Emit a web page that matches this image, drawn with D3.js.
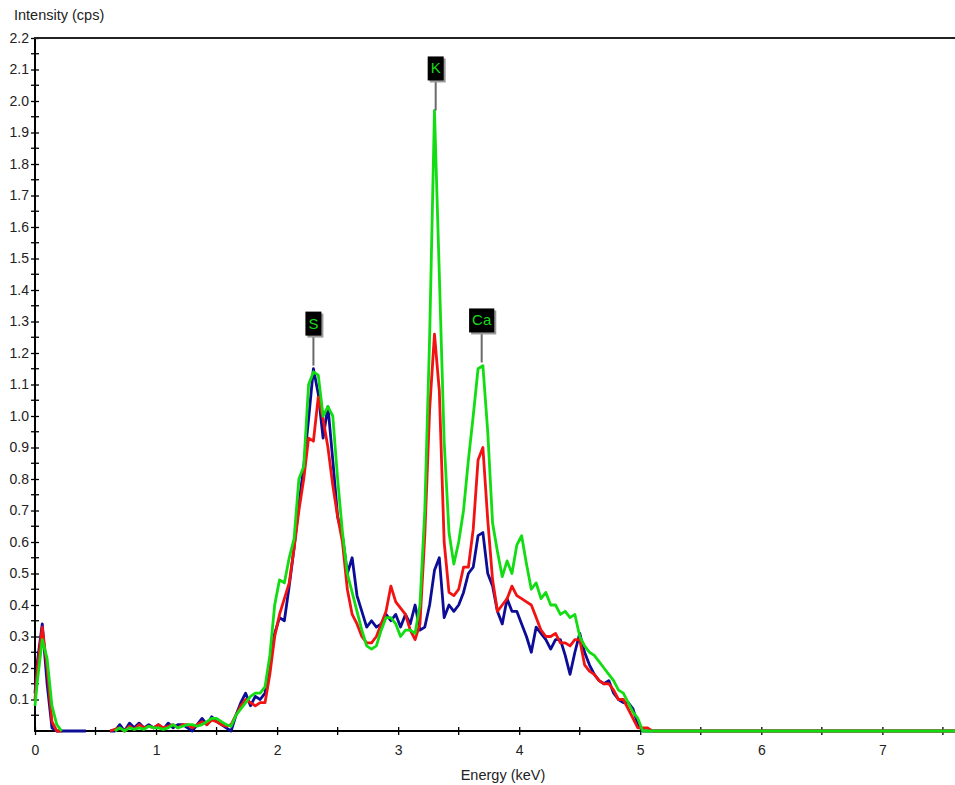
<!DOCTYPE html>
<html>
<head>
<meta charset="utf-8">
<script src="https://cdn.jsdelivr.net/npm/d3@7/dist/d3.min.js"></script>
<style>
  html, body { margin: 0; padding: 0; background: #fff; }
  svg { display: block; }
  text { font-family: "Liberation Sans", Arial, sans-serif; }
</style>
</head>
<body>
<svg id="chart" width="955" height="785"></svg>
<script>
// ---- data ----
const energies = [0,
  0.02,0.06,0.10,0.14,0.18,0.22,0.26,0.30,0.34,0.38,0.42,0.46,0.50,0.54,0.58,0.62,0.66,0.70,0.74,0.78,
  0.82,0.86,0.90,0.94,0.98,1.02,1.06,1.10,1.14,1.18,1.22,1.26,1.30,1.34,1.38,1.42,1.46,1.50,1.54,1.58,
  1.62,1.66,1.70,1.74,1.78,1.82,1.86,1.90,1.94,1.98,2.02,2.06,2.10,2.14,2.18,2.22,2.26,2.30,2.34,2.38,
  2.42,2.46,2.50,2.54,2.58,2.62,2.66,2.70,2.74,2.78,2.82,2.86,2.90,2.94,2.98,3.02,3.06,3.10,3.14,3.18,
  3.22,3.26,3.30,3.34,3.38,3.42,3.46,3.50,3.54,3.58,3.62,3.66,3.70,3.74,3.78,3.82,3.86,3.90,3.94,3.98,
  4.02,4.06,4.10,4.14,4.18,4.22,4.26,4.30,4.34,4.38,4.42,4.46,4.50,4.54,4.58,4.62,4.66,4.70,4.74,4.78,
  4.82,4.86,4.90,4.94,4.98,5.02,5.06,5.10,7.60];

const blueSeries = [0.12,
  0.22,0.34,0.15,0.01,0,0,0,0,0,0,0,null,null,null,null,0,0,0.02,0,0.025,
  0.01,0.025,0.01,0.02,0.01,0.02,0.005,0.025,0.01,0.02,0.02,0.01,0,0.02,0.04,0.02,0.045,0.03,0.02,0.01,
  0,0.05,0.09,0.12,0.08,0.11,0.10,0.12,0.22,0.31,0.36,0.35,0.46,0.58,0.72,0.84,0.99,1.15,1.07,0.93,
  1.03,0.86,0.68,0.62,0.50,0.55,0.43,0.38,0.33,0.35,0.33,0.34,0.37,0.35,0.37,0.33,0.37,0.34,0.40,0.32,
  0.33,0.40,0.51,0.55,0.36,0.40,0.38,0.40,0.44,0.50,0.52,0.62,0.63,0.50,0.46,0.38,0.34,0.42,0.38,0.38,
  0.34,0.30,0.25,0.33,0.31,0.29,0.26,0.29,0.29,0.24,0.18,0.25,0.31,0.25,0.21,0.18,0.16,0.15,0.16,0.12,
  0.10,0.09,0.09,0.07,0.02,0,0,0,0];

const redSeries = [0.10,
  0.20,0.33,0.20,0.03,0,0,null,null,null,null,null,null,null,null,null,0,0.005,0.01,0,0.015,
  0.005,0.02,0.01,0.015,0.01,0.02,0.01,0.015,0.02,0.01,0.02,0.02,0.01,0.02,0.03,0.02,0.035,0.03,0.02,0.015,
  0.02,0.05,0.08,0.10,0.09,0.08,0.09,0.09,0.18,0.30,0.37,0.42,0.47,0.58,0.70,0.80,0.93,0.92,1.06,0.99,
  0.90,0.78,0.68,0.60,0.45,0.37,0.34,0.30,0.28,0.28,0.30,0.34,0.38,0.46,0.41,0.39,0.37,0.32,0.29,0.34,
  0.62,1.02,1.26,1.08,0.60,0.44,0.43,0.45,0.52,0.52,0.64,0.86,0.90,0.67,0.48,0.38,0.40,0.42,0.46,0.43,
  0.42,0.41,0.40,0.36,0.32,0.30,0.30,0.31,0.28,0.28,0.27,0.29,0.29,0.21,0.19,0.18,0.16,0.15,0.15,0.13,
  0.10,0.10,0.07,0.04,0.01,0.01,0.01,0,0];

const greenSeries = [0.08,
  0.16,0.29,0.23,0.08,0.02,0,null,null,null,null,null,null,null,null,null,null,0,0.01,0,0.01,
  0.005,0.01,0.005,0.015,0.01,0.01,0.005,0.01,0.02,0.01,0.015,0.02,0.02,0.015,0.02,0.03,0.04,0.04,0.03,0.02,
  0.015,0.05,0.07,0.09,0.11,0.12,0.12,0.14,0.24,0.40,0.48,0.47,0.55,0.61,0.80,0.84,1.10,1.14,1.13,1.00,
  1.03,1.00,0.80,0.63,0.50,0.44,0.38,0.32,0.27,0.26,0.27,0.32,0.36,0.36,0.34,0.30,0.32,0.32,0.31,0.40,
  0.70,1.25,1.97,1.45,0.92,0.63,0.53,0.60,0.70,0.86,1.00,1.15,1.16,0.95,0.66,0.57,0.49,0.54,0.50,0.59,
  0.62,0.53,0.45,0.47,0.42,0.44,0.40,0.40,0.37,0.38,0.36,0.37,0.30,0.27,0.25,0.24,0.22,0.20,0.18,0.16,
  0.13,0.12,0.09,0.06,0.04,0,0,0,0];

const seriesColors = ["#0c0c96", "#f21212", "#12dc12"];

const yTickLabels = ["0.1","0.2","0.3","0.4","0.5","0.6","0.7","0.8","0.9","1.0","1.1",
                     "1.2","1.3","1.4","1.5","1.6","1.7","1.8","1.9","2.0","2.1","2.2"];
const xTickLabels = ["0","1","2","3","4","5","6","7"];

const peakNames = ["S", "K", "Ca"];
const peakEnergies = [2.30, 3.31, 3.69];
const peakHeights = [1.16, 1.97, 1.17];

const xTitle = "Energy (keV)";
const yTitle = "Intensity (cps)";

// ---- drawing ----
const svg = d3.select("#chart");
const x = d3.scaleLinear().domain([0, 7.6]).range([35, 955]);
const y = d3.scaleLinear().domain([0, 2.2]).range([731, 38]);

// y axis (major ticks with labels, minor ticks between)
const yMajor = yTickLabels.map(Number);
const yAxis = d3.axisLeft(y)
  .tickValues(yMajor)
  .tickFormat((d, i) => yTickLabels[i])
  .tickSizeInner(4).tickSizeOuter(0).tickPadding(2);
const gy = svg.append("g").attr("transform", "translate(35,0)").call(yAxis);
gy.select(".domain").remove();
gy.selectAll(".tick line").attr("x1", -4).attr("x2", 4).attr("stroke", "#000").attr("stroke-width", 1.3);
gy.selectAll(".tick text").attr("font-size", 14).attr("fill", "#222").attr("x", -6);

const yMinor = d3.range(1, 44, 2).map(k => k * 0.05);
svg.append("g").selectAll("line").data(yMinor).join("line")
  .attr("x1", 31).attr("x2", 39)
  .attr("y1", d => y(d)).attr("y2", d => y(d))
  .attr("stroke", "#000").attr("stroke-width", 1.3);

// x axis
const xAxis = d3.axisBottom(x)
  .tickValues(xTickLabels.map(Number))
  .tickFormat((d, i) => xTickLabels[i])
  .tickSizeInner(4).tickSizeOuter(0).tickPadding(10);
const gx = svg.append("g").attr("transform", "translate(0,731)").call(xAxis);
gx.select(".domain").remove();
gx.selectAll(".tick line").attr("y1", -4).attr("y2", 4).attr("stroke", "#000").attr("stroke-width", 1.3);
gx.selectAll(".tick text").attr("font-size", 14).attr("fill", "#222");

const xMinor = d3.range(0, 8).map(k => k + 0.5).filter(v => v < 7.6);
svg.append("g").selectAll("line").data(xMinor).join("line")
  .attr("x1", d => x(d)).attr("x2", d => x(d))
  .attr("y1", 727).attr("y2", 735)
  .attr("stroke", "#000").attr("stroke-width", 1.3);

// frame lines: left axis, bottom axis, top line
svg.append("line").attr("x1", 35).attr("x2", 35).attr("y1", 38).attr("y2", 731)
  .attr("stroke", "#000").attr("stroke-width", 2);
svg.append("line").attr("x1", 34).attr("x2", 955).attr("y1", 731).attr("y2", 731)
  .attr("stroke", "#000").attr("stroke-width", 2);
svg.append("line").attr("x1", 34).attr("x2", 955).attr("y1", 38).attr("y2", 38)
  .attr("stroke", "#222").attr("stroke-width", 2);

// titles
svg.append("text").attr("x", 14).attr("y", 20).attr("font-size", 14.5).attr("fill", "#222").text(yTitle);
svg.append("text").attr("x", 503).attr("y", 780).attr("text-anchor", "middle")
  .attr("font-size", 14.5).attr("fill", "#222").text(xTitle);

// spectra
const line = d3.line()
  .defined(d => d[1] != null)
  .x(d => x(d[0])).y(d => y(d[1]));
[blueSeries, redSeries, greenSeries].forEach((s, k) => {
  svg.append("path")
    .datum(energies.map((e, i) => [e, s[i]]))
    .attr("d", line)
    .attr("fill", "none")
    .attr("stroke", seriesColors[k])
    .attr("stroke-width", 2.8)
    .attr("stroke-linejoin", "round");
});

// peak labels
peakNames.forEach((name, i) => {
  const px = x(peakEnergies[i]);
  const py = y(peakHeights[i]);
  const g = svg.append("g");
  g.append("line").attr("x1", px).attr("x2", px).attr("y1", py).attr("y2", py - 30)
    .attr("stroke", "#6a6a6a").attr("stroke-width", 2);
  const t = g.append("text").attr("font-size", 15).attr("fill", "#19d919")
    .attr("text-anchor", "middle").attr("x", px).attr("y", py - 30 - 7).text(name);
  const w = t.node().getComputedTextLength() + 6;
  g.insert("rect", "text").attr("x", px - w / 2 + 2).attr("y", py - 30 - 24 + 2)
    .attr("width", w).attr("height", 24).attr("fill", "#9a9a9a");
  g.insert("rect", "text").attr("x", px - w / 2).attr("y", py - 30 - 24)
    .attr("width", w).attr("height", 24).attr("fill", "#000");
});
</script>
</body>
</html>
